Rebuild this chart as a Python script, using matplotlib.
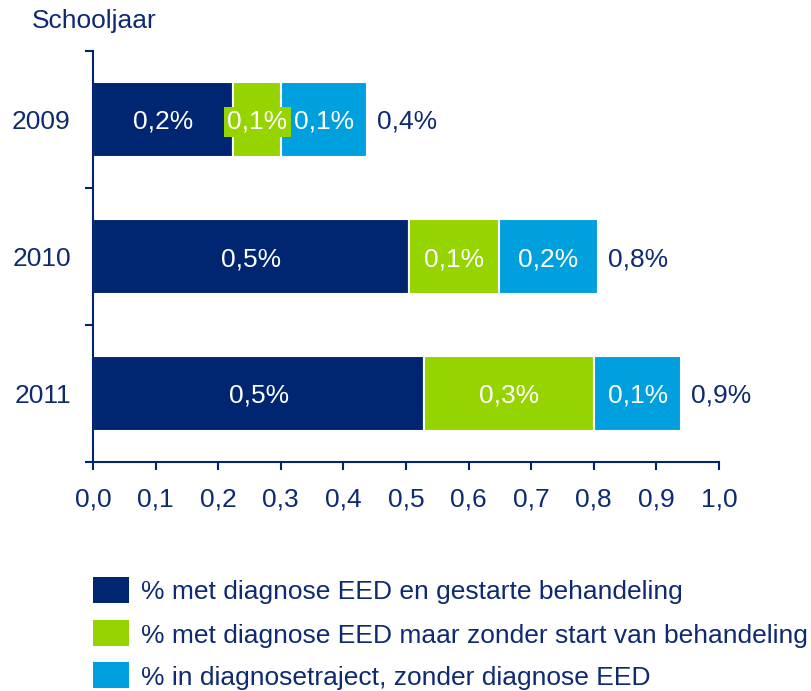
import matplotlib
matplotlib.use("Agg")
from matplotlib import pyplot as plt
from matplotlib.patches import Rectangle
import numpy as np

plt.rcParams['font.family'] = ['Liberation Sans', 'DejaVu Sans']

# data
years = ['2009', '2010', '2011']
met_behandeling = [0.224, 0.505, 0.529]
zonder_behandeling = [0.077, 0.144, 0.272]
diagnosetraject = [0.136, 0.157, 0.139]
segment_labels = [
    ['0,2%', '0,1%', '0,1%'],
    ['0,5%', '0,1%', '0,2%'],
    ['0,5%', '0,3%', '0,1%'],
]
total_labels = ['0,4%', '0,8%', '0,9%']
xtick_values = [0.0, 0.1, 0.2, 0.3, 0.4, 0.5, 0.6, 0.7, 0.8, 0.9, 1.0]
xtick_labels = ['0,0', '0,1', '0,2', '0,3', '0,4', '0,5', '0,6', '0,7', '0,8', '0,9', '1,0']
legend_labels = [
    '% met diagnose EED en gestarte behandeling',
    '% met diagnose EED maar zonder start van behandeling',
    '% in diagnosetraject, zonder diagnose EED',
]

navy = '#002672'
green = '#96d400'
blue = '#00a0de'
text_col = '#0d2a72'
colors = [navy, green, blue]
fs = 19

W, H = 811, 691
fig = plt.figure(figsize=(W / 100, H / 100), dpi=100)
ax = fig.add_axes([93 / W, 1 - 462 / H, 626 / W, 411 / H])

y = np.arange(len(years))
series = [met_behandeling, zonder_behandeling, diagnosetraject]
left = np.zeros(len(years))
for s, (vals, col) in enumerate(zip(series, colors)):
    bars = ax.barh(y, vals, left=left, height=0.55, color=col,
                   edgecolor='white', linewidth=1.5)
    for i, b in enumerate(bars):
        cx = b.get_x() + b.get_width() / 2
        ax.text(cx, y[i], segment_labels[i][s], color='white', fontsize=fs,
                ha='center', va='center_baseline',
                bbox=dict(boxstyle='square,pad=0.12', facecolor=col, edgecolor='none'))
    left = left + np.array(vals)

# totals to the right of the bars
for i, tot in enumerate(left):
    ax.annotate(total_labels[i], (tot, y[i]), xytext=(10, 0), textcoords='offset pixels',
                color=text_col, fontsize=fs, ha='left', va='center_baseline')

ax.set_xlim(0, 1)
ax.set_ylim(2.5, -0.5)
ax.set_xticks(xtick_values, labels=xtick_labels)
ax.set_yticks(y, labels=years)
ax.set_yticks([-0.5, 0.5, 1.5, 2.5], minor=True)

for sp in ['top', 'right']:
    ax.spines[sp].set_visible(False)
for sp in ['left', 'bottom']:
    ax.spines[sp].set_color(navy)
    ax.spines[sp].set_linewidth(1.5)

ax.tick_params(axis='x', direction='out', length=6, width=1.5, color=navy,
               labelcolor=text_col, labelsize=fs, pad=12)
ax.tick_params(axis='y', which='major', length=0, labelcolor=text_col,
               labelsize=fs, pad=16)
ax.tick_params(axis='y', which='minor', direction='out', length=6, width=1.5, color=navy)

fig.text(32 / W, 1 - 28 / H, 'Schooljaar', color=text_col, fontsize=fs,
         ha='left', va='baseline')

# legend drawn by hand
row_y = [590, 633, 675]
for lab, col, ry in zip(legend_labels, colors, row_y):
    fig.patches.append(Rectangle((93 / W, 1 - (ry + 13) / H), 36 / W, 26 / H,
                                 transform=fig.transFigure, facecolor=col,
                                 edgecolor='none'))
    fig.text(141 / W, 1 - ry / H, lab, color=text_col, fontsize=fs,
             ha='left', va='center_baseline')

fig.savefig('out.png', dpi=100)
